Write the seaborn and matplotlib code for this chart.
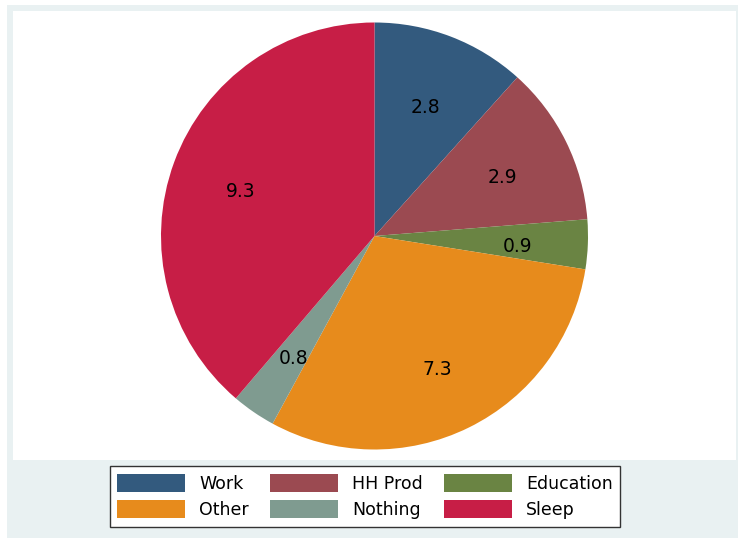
import matplotlib.pyplot as plt
import matplotlib.transforms as mtransforms
import seaborn as sns
from matplotlib.patches import Rectangle

# Hours per day by activity
activities = ['Work', 'HH Prod', 'Education', 'Other', 'Nothing', 'Sleep']
hours = [2.8, 2.9, 0.9, 7.3, 0.8, 9.3]
colors = ['#335a7e', '#9b4a51', '#6a8443', '#e78b1c', '#7f9b90', '#c71e46']

sns.set_style('white')
plt.rcParams['font.family'] = ['DejaVu Sans']
plt.rcParams['text.color'] = 'black'

W, H = 738, 538
fig = plt.figure(figsize=(W / 100, H / 100), dpi=100, facecolor='white')

# Stata-like background: grey graph region, white plot region
fig.patches.append(Rectangle((7 / W, 0), (W - 7) / W, (H - 5) / H,
                             transform=fig.transFigure, facecolor='#e9f1f2',
                             edgecolor='none', zorder=-2))
fig.patches.append(Rectangle((13 / W, (H - 460) / H), (736 - 13) / W, (460 - 11) / H,
                             transform=fig.transFigure, facecolor='white',
                             edgecolor='none', zorder=-1))

cx, cy, r = 374.5, 236, 213.5
ax = fig.add_axes([(cx - r) / W, (H - cy - r) / H, 2 * r / W, 2 * r / H])
ax.set_zorder(2)
ax.set_facecolor('none')
ax.axis('off')

total = sum(hours)
wedges, texts, autotexts = ax.pie(
    hours, colors=sns.color_palette(colors), startangle=90, counterclock=False,
    radius=1, pctdistance=0.67,
    autopct=lambda p: f'{p * total / 100:.1f}',
    wedgeprops=dict(linewidth=0),
    textprops=dict(fontsize=13.5, color='black'))
ax.set_xlim(-1, 1)
ax.set_ylim(-1, 1)
ax.set_aspect('equal')

# labels sit a little lower in the original
shift = mtransforms.ScaledTranslation(0, -5 / 100, fig.dpi_scale_trans)
for t in autotexts:
    t.set_transform(t.get_transform() + shift)

# legend laid out in rows like Stata (fill column-wise)
order = [0, 3, 1, 4, 2, 5]
leg = fig.legend([wedges[i] for i in order], [activities[i] for i in order],
                 ncol=3, loc='center', bbox_to_anchor=(365 / W, (H - 496.5) / H),
                 fontsize=12.5, handlelength=3.9, handleheight=1.2,
                 handletextpad=0.8, columnspacing=1.25, labelspacing=0.4,
                 fancybox=False, framealpha=1, edgecolor='#333333',
                 borderpad=0.45)
leg.get_frame().set_linewidth(1.0)
leg.set_zorder(3)

fig.savefig('out.png', dpi=100, facecolor='white')
